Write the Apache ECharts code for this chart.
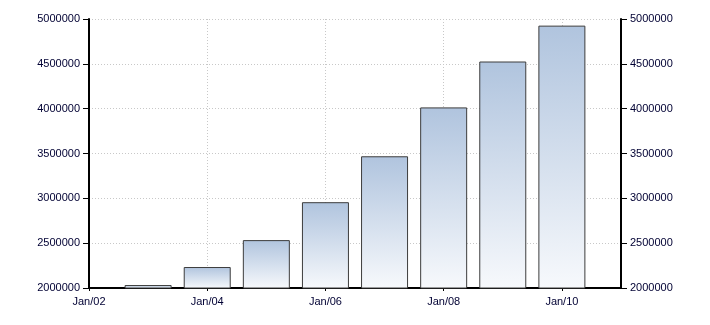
<!DOCTYPE html>
<html>
<head>
<meta charset="utf-8">
<script src="https://cdn.jsdelivr.net/npm/echarts@6/dist/echarts.min.js"></script>
<style>
html,body{margin:0;padding:0;background:#fff;}
#chart{width:710px;height:325px;}
</style>
</head>
<body>
<div id="chart"></div>
<script>
var years = [2003, 2004, 2005, 2006, 2007, 2008, 2009, 2010];
var values = [2033000, 2234000, 2534000, 2957000, 3469000, 4014000, 4526000, 4926000];
var xMin = 2002, xMax = 2011, xInterval = 2;
var yMin = 2000000, yMax = 5000000, yInterval = 500000;

var data = years.map(function (y, i) { return [y, values[i]]; });
var font = '"Liberation Sans", Arial, sans-serif';
var textColor = '#000033';

var chart = echarts.init(document.getElementById('chart'), null, {renderer: 'canvas'});
var yAxisCommon = {
  type: 'value', min: yMin, max: yMax, interval: yInterval,
  axisLine: {show: true, lineStyle: {color: '#000', width: 2}},
  axisTick: {show: true, length: 6, lineStyle: {color: '#000', width: 1}},
  axisLabel: {color: textColor, fontFamily: font, fontSize: 11, margin: 9,
    formatter: function (v) { return String(Math.round(v)); }},
  splitLine: {show: false}
};
chart.setOption({
  animation: false,
  backgroundColor: '#fff',
  grid: {left: 89, right: 89, top: 19, bottom: 37},
  xAxis: {
    type: 'value', min: xMin, max: xMax, interval: xInterval,
    axisLine: {show: true, onZero: false, lineStyle: {color: '#000', width: 2}},
    axisTick: {show: true, length: 3, lineStyle: {color: '#000', width: 1}},
    axisLabel: {
      color: textColor, fontFamily: font, fontSize: 11, margin: 8,
      showMaxLabel: false,
      formatter: function (v) { return (v % 2 === 0) ? 'Jan/' + String(v).slice(2) : ''; }
    },
    splitLine: {show: true, lineStyle: {color: '#c8c8c8', type: [1, 2], width: 1}}
  },
  yAxis: [
    Object.assign({}, yAxisCommon, {
      position: 'left',
      splitLine: {show: true, lineStyle: {color: '#c8c8c8', type: [1, 2], width: 1}}
    }),
    Object.assign({}, yAxisCommon, {position: 'right'})
  ],
  series: [{
    type: 'bar',
    data: data,
    barWidth: 47,
    yAxisIndex: 0,
    itemStyle: {
      borderColor: '#3c3c3c',
      borderWidth: 1,
      color: new echarts.graphic.LinearGradient(0, 0, 0, 1, [
        {offset: 0, color: '#b0c4de'},
        {offset: 1, color: '#f7f9fc'}
      ])
    }
  }]
});
</script>
</body>
</html>
